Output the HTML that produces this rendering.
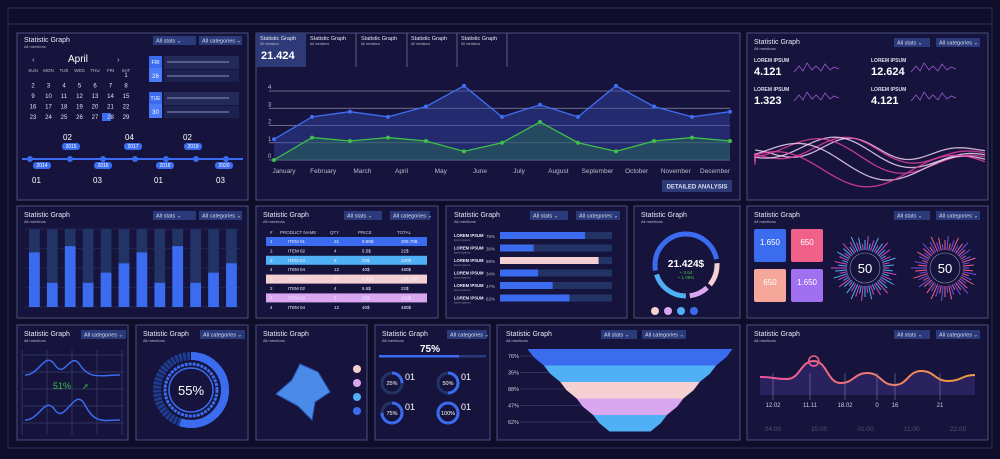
<!DOCTYPE html>
<html><head><meta charset="utf-8"><style>
body{margin:0;background:#0e0d2a;width:1000px;height:454px;overflow:hidden;font-family:"Liberation Sans",sans-serif}
svg text{font-family:"Liberation Sans",sans-serif}
</style></head><body>
<svg id="s" width="1000" height="454" viewBox="0 0 1000 454">
<rect x="0" y="0" width="1000" height="454" fill="#0e0d2a"/>
<rect x="8" y="8" width="984" height="440" fill="none" stroke="#2c3058" stroke-width="1"/>
<line x1="8" y1="24" x2="992" y2="24" stroke="#2c3058"/>
<g id="panels"></g>
<g id="content"></g>
</svg>
<script>
// main line chart data
const months=["January","February","March","April","May","June","July","August","September","October","November","December"];
const blueVals=[1.2,2.5,2.8,2.5,3.1,4.3,2.5,3.2,2.5,4.3,3.1,2.5,2.8];
const greenVals=[0,1.3,1.1,1.3,1.1,0.5,1,2.2,1,0.5,1.1,1.3,1.1];
const yTicks=[0,1,2,3,4];
// bar chart data
const barVals=[0.70,0.31,0.78,0.31,0.44,0.56,0.70,0.31,0.78,0.31,0.44,0.56];
// progress list data
const progLabels=["76%","30%","88%","34%","47%","62%"];
const progVals=[0.76,0.30,0.88,0.34,0.47,0.62];
const progColors=["#3b6cf0","#3b6cf0","#f5d0d3","#3b6cf0","#3b6cf0","#3b6cf0"];
// funnel data
const funnelLabels=["76%","35%","88%","47%","62%"];
const funnelVals=[0.76,0.35,0.88,0.47,0.62];
const funnelColors=["#3b6cf0","#4fb0f5","#f5d0d3","#d9a6f0","#4fb0f5"];
// wave chart data
const waveLabels=["12.02","11.11","18.02","0","16","21"];
const waveVals=[0.45,0.4,0.85,0.3,0.55,0.25,0.6,0.35,0.5];
const timeLabels=["04:00","15:00","01:00","11:00","22:00"];

const NS="http://www.w3.org/2000/svg";
function el(tag,attrs,parent,txt){const e=document.createElementNS(NS,tag);for(const k in attrs)e.setAttribute(k,attrs[k]);if(txt!==undefined)e.textContent=txt;(parent||C).appendChild(e);return e;}
const P=document.getElementById('panels');const C=document.getElementById('content');
const panels=[[17,33,231,167,'calendar-panel'],[256,33,484,167,'line-chart-panel'],[747,33,241,167,'waves-panel'],
[17,206,231,112,'bar-chart-panel'],[256,206,182,112,'table-panel'],[446,206,181,112,'progress-panel'],[634,206,106,112,'donut-panel'],[747,206,241,112,'cards-panel'],
[17,325,111,115,'mini-wave-panel'],[136,325,112,115,'ring-panel'],[256,325,111,115,'radar-panel'],[375,325,115,115,'circles-panel'],[497,325,243,115,'funnel-panel'],[747,325,241,115,'wave-line-panel']];
panels.forEach(p=>{const r=el('rect',{x:p[0],y:p[1],width:p[2],height:p[3],fill:'#16143c',stroke:'#4a4f7e','stroke-width':1},P);

});
function title(x,y,dd){const t=el('text',{x:x,y:y,fill:'#e8e8f5','font-size':7},C,'Statistic Graph');


el('text',{x:x,y:y+6,fill:'#b8b8d0','font-size':4},C,'All mentions');
if(dd){dd.forEach(d=>{const g=el('rect',{x:d[0],y:y-6,width:d[1],height:9,fill:'#2a3a7a'},C);


el('text',{x:d[0]+3,y:y+0.5,fill:'#dde','font-size':5.5},C,d[2]);});}}
title(24,42,[[153,43,'All stats ⌄'],[199,43,'All categories ⌄']]);
title(24,217,[[153,43,'All stats ⌄'],[199,43,'All categories ⌄']]);
title(263,217,[[344,38,'All stats ⌄'],[390,40,'All categories ⌄']]);
title(454,217,[[530,38,'All stats ⌄'],[576,44,'All categories ⌄']]);
title(641,217);
title(754,217,[[894,36,'All stats ⌄'],[936,44,'All categories ⌄']]);
title(754,44,[[894,36,'All stats ⌄'],[936,44,'All categories ⌄']]);
title(24,336,[[81,45,'All categories ⌄']]);
title(143,336,[[200,45,'All categories ⌄']]);
title(263,336);
title(382,336,[[447,40,'All categories ⌄']]);
title(506,336,[[601,36,'All stats ⌄'],[642,44,'All categories ⌄']]);
title(754,336,[[894,36,'All stats ⌄'],[936,44,'All categories ⌄']]);

// ===== Calendar panel =====
el('text',{x:68,y:62,fill:'#fff','font-size':10},C,'April');
el('text',{x:32,y:62,fill:'#aab','font-size':8},C,'‹');el('text',{x:117,y:62,fill:'#aab','font-size':8},C,'›');
const days=['SUN','MON','TUE','WED','THU','FRI','SAT'];
days.forEach((d,i)=>el('text',{x:33+i*15.5,y:72,fill:'#bbc','font-size':4.5,'text-anchor':'middle'},C,d));
for(let r=0;r<5;r++)for(let c=0;c<7;c++){const dnum=r*7+c-5;if(dnum<1||dnum>30)continue;
if(dnum===26)el('rect',{x:102,y:77+r*10.5-6,width:9,height:8,fill:'#3b6cf0'},C);
el('text',{x:33+c*15.5,y:77+r*10.5,fill:'#e0e0f0','font-size':6,'text-anchor':'middle'},C,dnum);}
[[149,56,'FRI','26'],[149,92,'TUE','30']].forEach(b=>{el('rect',{x:b[0],y:b[1],width:13,height:26,fill:'#3b6cf0',rx:1},C);
el('text',{x:b[0]+6.5,y:b[1]+8,fill:'#fff','font-size':5,'text-anchor':'middle'},C,b[2]);
el('rect',{x:b[0],y:b[1]+12,width:13,height:14,fill:'#4a7af5'},C);
el('text',{x:b[0]+6.5,y:b[1]+22,fill:'#fff','font-size':6,'text-anchor':'middle'},C,b[3]);
el('rect',{x:b[0]+15,y:b[1],width:75,height:13,fill:'#232a5a'},C);
el('rect',{x:b[0]+15,y:b[1]+14,width:75,height:12,fill:'#1d2150'},C);
el('line',{x1:b[0]+18,y1:b[1]+6,x2:b[0]+80,y2:b[1]+6,stroke:'#8890c0','stroke-width':1},C);
el('line',{x1:b[0]+18,y1:b[1]+20,x2:b[0]+80,y2:b[1]+20,stroke:'#8890c0','stroke-width':1},C);});
el('line',{x1:22,y1:159,x2:243,y2:159,stroke:'#3b6cf0','stroke-width':2},C);
[30,70,103,135,166,196,226].forEach(x=>{el('circle',{cx:x,cy:159,r:3,fill:'#3b6cf0'},C);});
[['2014',42,167],['2016',103,167],['2018',165,167],['2020',224,167],['2015',71,148],['2017',133,148],['2019',193,148]].forEach(l=>{
el('rect',{x:l[1]-9,y:l[2]-5,width:18,height:7,fill:'#3b6cf0',rx:3},C);el('text',{x:l[1],y:l[2],fill:'#fff','font-size':5,'text-anchor':'middle'},C,l[0]);});
[[63,140,'02'],[125,140,'04'],[183,140,'02'],[32,183,'01'],[93,183,'03'],[154,183,'01'],[216,183,'03']].forEach(l=>el('text',{x:l[0],y:l[1],fill:'#fff','font-size':8},C,l[2]));

// ===== Main line chart =====
const tabs=[256,306,357,407,457];
tabs.forEach((x,i)=>{if(i===0)el('rect',{x:x,y:33,width:50,height:34,fill:'#2e3a78'},C);
else el('line',{x1:x+50,y1:33,x2:x+50,y2:67,stroke:'#5a5f85'},C);
el('text',{x:x+4,y:40,fill:'#e8e8f5','font-size':5.5},C,'Statistic Graph');el('text',{x:x+4,y:45,fill:'#bbc','font-size':3.5},C,'All mentions');});
el('text',{x:261,y:59,fill:'#fff','font-size':11,'font-weight':'bold'},C,'21.424');
const lx0=274,lx1=730,ly0=160,lyU=17.25;
const X=i=>lx0+i*(lx1-lx0)/(blueVals.length-1);const Y=v=>ly0-v*lyU;
yTicks.forEach(t=>{el('line',{x1:269,y1:Y(t),x2:730,y2:Y(t),stroke:'#8c8aa8','stroke-width':0.8},C);
el('text',{x:268,y:Y(t)-2,fill:'#bbc','font-size':6},C,t);});
function series(vals,col,fill,name){let d='';vals.forEach((v,i)=>d+=(i?'L':'M')+X(i)+','+Y(v));
el('path',{d:d+'L'+X(vals.length-1)+','+ly0+'L'+X(0)+','+ly0+'Z',fill:fill},C);
const p=el('path',{d:d,fill:'none',stroke:col,'stroke-width':1.3},C);


vals.forEach((v,i)=>{const c=el('circle',{cx:X(i),cy:Y(v),r:2,fill:col},C);

});}
series(blueVals,'#3f6ef2','rgba(50,70,170,0.45)','blue-series');
series(greenVals,'#3ec04a','rgba(40,110,80,0.45)','green-series');
months.forEach((m,i)=>el('text',{x:284+i*(715-284)/11,y:173,fill:'#bbc','font-size':6.5,'text-anchor':'middle'},C,m));
const btn=el('rect',{x:662,y:180,width:70,height:12,fill:'#2e3a78'},C);


el('text',{x:697,y:188.5,fill:'#dde','font-size':6,'font-weight':'bold','text-anchor':'middle'},C,'DETAILED ANALYSIS');

// ===== Waves panel =====
[[754,72,'4.121'],[871,72,'12.624'],[754,101,'1.323'],[871,101,'4.121']].forEach(l=>{el('text',{x:l[0],y:l[1]-10,fill:'#dde','font-size':5,'font-weight':'bold'},C,'LOREM IPSUM');
el('text',{x:l[0],y:l[1]+3,fill:'#fff','font-size':11,'font-weight':'bold'},C,l[2]);
el('path',{d:'M'+(l[0]+40)+','+(l[1])+' l5,-6 l4,5 l4,-8 l5,7 l4,-4 l5,5 l4,-7 l5,6 l4,-3 l5,2',fill:'none',stroke:'#9a5ad0','stroke-width':0.8},C);});
for(let k=0;k<6;k++){let d='M755,'+(150+k*3);for(let x=755;x<=985;x+=5){d+=' L'+x+','+(150+k*2+Math.sin((x-755)/(20+k*4)+k)*(12+k*3)*Math.sin((x-740)/240*Math.PI));}
el('path',{d:d,fill:'none',stroke:k%2?'#e040a0':'#f0d0f0','stroke-width':1.3,opacity:0.85},C);}

// ===== Bar chart =====
const bx0=25,bx1=240,bTop=229,bBot=307;
for(let g=0;g<=4;g++)el('line',{x1:bx0,y1:bTop+g*(bBot-bTop)/4,x2:bx1,y2:bTop+g*(bBot-bTop)/4,stroke:'#2e3260','stroke-width':0.6},C);
const bw=(bx1-bx0)/barVals.length;
barVals.forEach((v,i)=>{const x=bx0+4+i*bw;el('rect',{x:x,y:bTop,width:bw*0.6,height:bBot-bTop,fill:'#223466'},C);
const r=el('rect',{x:x,y:bBot-v*(bBot-bTop),width:bw*0.6,height:v*(bBot-bTop),fill:'#3b6cf0'},C);

});

// ===== Table =====
const th=['#','PRODUCT NAME','QTY','PRICE','TOTAL'];const tx=[270,280,330,358,397];
th.forEach((h,i)=>el('text',{x:tx[i],y:234,fill:'#ccd','font-size':4.5},C,h));
const rows=[['1','ITEM 01','21','9.99$','209.79$','#3b6cf0'],['2','ITEM 02','4','5.5$','22$',null],['3','ITEM 03','5','20$','100$','#4fb0f5'],['4','ITEM 04','12','40$','480$',null],['1','ITEM 01','21','9.99$','209.79$','#f5d0d3'],['2','ITEM 02','4','5.5$','22$',null],['3','ITEM 03','5','20$','100$','#d9a6f0'],['4','ITEM 04','12','40$','480$',null]];
rows.forEach((r,i)=>{const y=237+i*9.4;if(r[5])el('rect',{x:266,y:y,width:161,height:9,fill:r[5]},C);
[0,1,2,3,4].forEach(j=>el('text',{x:j==1?288:tx[j]+(j>1?4:0),y:y+6,fill:'#eef','font-size':4.5},C,r[j]));});

// ===== Progress list =====
progVals.forEach((v,i)=>{const y=235+i*12.5;el('text',{x:454,y:y+2,fill:'#eef','font-size':4.2,'font-weight':'bold'},C,'LOREM IPSUM');
el('text',{x:454,y:y+6,fill:'#99a','font-size':3},C,'lorem ipsum');
el('text',{x:486,y:y+3,fill:'#bbc','font-size':4.5},C,progLabels[i]);
el('rect',{x:500,y:y-3,width:112,height:7,fill:'#223466'},C);
const r=el('rect',{x:500,y:y-3,width:112*v,height:7,fill:progColors[i]},C);

});

// ===== Donut =====
const dcx=686,dcy=265,dr=31;
const segs=[['#3b6cf0',0.22],['#16143c',0.02],['#f5d0d3',0.12],['#16143c',0.02],['#d9a6f0',0.1],['#16143c',0.02],['#4fb0f5',0.2],['#16143c',0.02],['#3b6cf0',0.28]];
let acc=-Math.PI/2;const circ=2*Math.PI*dr;
segs.forEach(s=>{el('circle',{cx:dcx,cy:dcy,r:dr,fill:'none',stroke:s[0],'stroke-width':5,'stroke-dasharray':(s[1]*circ)+' '+circ,'stroke-dashoffset':-(acc+Math.PI/2)/(2*Math.PI)*circ,transform:'rotate(-90 '+dcx+' '+dcy+')'},C);acc+=s[1]*2*Math.PI;});
el('text',{x:dcx,y:dcy+2,fill:'#fff','font-size':10,'font-weight':'bold','text-anchor':'middle'},C,'21.424$');
el('text',{x:dcx,y:dcy+9,fill:'#3ec04a','font-size':4.5,'text-anchor':'middle'},C,'+ 3.64');
el('text',{x:dcx,y:dcy+14,fill:'#3ec04a','font-size':4.5,'text-anchor':'middle'},C,'+ 1.08%');
['#f5d0d3','#d9a6f0','#4fb0f5','#3b6cf0'].forEach((c,i)=>el('circle',{cx:655+i*13,cy:311,r:4,fill:c},C));

// ===== Cards + radial =====
[[754,229,'#3b6cf0','1.650'],[791,229,'#f0608a','650'],[754,269,'#f5a89a','650'],[791,269,'#a070f0','1.650']].forEach(c=>{
el('rect',{x:c[0],y:c[1],width:32,height:33,fill:c[2],rx:2},C);el('text',{x:c[0]+16,y:c[1]+16,fill:'#fff','font-size':8,'text-anchor':'middle'},C,c[3]);});
[[865,268,'#4fb0f5','#d04ac0'],[945,268,'#f06090','#7050e0']].forEach(r=>{
for(let a=0;a<60;a++){const ang=a/60*2*Math.PI;const len=6+((a*37)%11);const r1=18,r2=r1+len;
el('line',{x1:r[0]+Math.cos(ang)*r1,y1:r[1]+Math.sin(ang)*r1,x2:r[0]+Math.cos(ang)*r2,y2:r[1]+Math.sin(ang)*r2,stroke:a%2?r[2]:r[3],'stroke-width':1},C);}
el('circle',{cx:r[0],cy:r[1],r:15,fill:'none',stroke:'#8a8fb0','stroke-width':0.6},C);
el('text',{x:r[0],y:r[1]+5,fill:'#fff','font-size':13,'text-anchor':'middle'},C,'50');});

// ===== Mini wave =====
for(let g=0;g<5;g++){el('line',{x1:22,y1:355+g*17,x2:124,y2:355+g*17,stroke:'#2e3260'},C);el('line',{x1:22+g*25,y1:350,x2:22+g*25,y2:435,stroke:'#2e3260'},C);}
el('path',{d:'M25,375 C40,375 45,350 55,365 C65,380 70,350 80,365 C90,380 100,375 120,375',fill:'none',stroke:'#3b6cf0','stroke-width':1.5},C);
el('path',{d:'M25,420 C40,420 45,395 55,410 C65,425 75,385 85,405 C95,425 105,420 120,420',fill:'none',stroke:'#3b6cf0','stroke-width':1.5},C);
el('text',{x:62,y:389,fill:'#3ec04a','font-size':9,'text-anchor':'middle'},C,'51%');
el('text',{x:82,y:389,fill:'#3ec04a','font-size':8},C,'➚');

// ===== Ring 55% =====
[[34,'#1e3c90',8],[26,'#3b6cf0',3],[22,'#3b6cf0',1.5]].forEach(r=>el('circle',{cx:191,cy:390,r:r[0],fill:'none',stroke:r[1],'stroke-width':r[2],'stroke-dasharray':r[2]>2?'3 1':'none'},C));
el('circle',{cx:191,cy:390,r:34,fill:'none',stroke:'#3b6cf0','stroke-width':8,'stroke-dasharray':(0.55*2*Math.PI*34)+' 999',transform:'rotate(-90 191 390)'},C);
el('text',{x:191,y:395,fill:'#fff','font-size':13,'text-anchor':'middle'},C,'55%');

// ===== Radar =====
el('path',{d:'M300,364 L318,372 L330,392 L315,402 L312,420 L298,406 L276,394 L292,380 Z',fill:'#4a8ae8',stroke:'#2a5ab8'},C);
['#f5d0d3','#d9a6f0','#4fb0f5','#3b6cf0'].forEach((c,i)=>el('circle',{cx:357,cy:369+i*14,r:4,fill:c},C));

// ===== Circles 75% =====
el('text',{x:430,y:352,fill:'#fff','font-size':10,'font-weight':'bold','text-anchor':'middle'},C,'75%');
el('rect',{x:379,y:355,width:107,height:2.5,fill:'#2a3a7a'},C);el('rect',{x:379,y:355,width:80,height:2.5,fill:'#3b6cf0'},C);
[[392,383,'25%',0.25],[448,383,'50%',0.5],[392,413,'75%',0.75],[448,413,'100%',1]].forEach(c=>{
el('circle',{cx:c[0],cy:c[1],r:10,fill:'none',stroke:'#223466','stroke-width':3},C);
el('circle',{cx:c[0],cy:c[1],r:10,fill:'none',stroke:'#3b6cf0','stroke-width':3,'stroke-dasharray':(c[3]*62.8)+' 99',transform:'rotate(-90 '+c[0]+' '+c[1]+')'},C);
el('text',{x:c[0],y:c[1]+2,fill:'#fff','font-size':5.5,'text-anchor':'middle'},C,c[2]);
el('text',{x:c[0]+13,y:c[1]-3,fill:'#fff','font-size':9},C,'01');});

// ===== Funnel =====
const fcx=630,fTop=349,fStep=16.5;
funnelVals.forEach((v,i)=>{const y=fTop+i*fStep;const wTop=(1-i*0.16)*205/2, wBot=(1-(i+1)*0.16)*205/2;
const p=el('path',{d:`M${fcx-wTop},${y} L${fcx+wTop},${y} L${fcx+wTop-6},${y+8} L${fcx+wBot},${y+fStep} L${fcx-wBot},${y+fStep} L${fcx-wTop+6},${y+8}Z`,fill:funnelColors[i]},C);


el('text',{x:508,y:y+9,fill:'#ccd','font-size':5.5},C,funnelLabels[i]);
el('line',{x1:520,y1:y+7,x2:fcx-wTop+4,y2:y+7,stroke:'#4a4f7e','stroke-width':0.5},C);});

// ===== Wave line =====
const wx0=760,wx1=975,wBase=395,wAmp=40;
let wd='';waveVals.forEach((v,i)=>{const x=wx0+i*(wx1-wx0)/(waveVals.length-1),y=wBase-v*wAmp;
if(i===0)wd='M'+x+','+y;else{const px=wx0+(i-1)*(wx1-wx0)/(waveVals.length-1),py=wBase-waveVals[i-1]*wAmp;const mx=(px+x)/2;wd+=` C${mx},${py} ${mx},${y} ${x},${y}`;}});
el('path',{d:wd+`L${wx1},${wBase}L${wx0},${wBase}Z`,fill:'rgba(80,60,160,0.35)'},C);
const defs=el('defs',{},C);const lg=el('linearGradient',{id:'wg',x1:0,x2:1,y1:0,y2:0},defs);
el('stop',{offset:0,'stop-color':'#f050a0'},lg);el('stop',{offset:1,'stop-color':'#f0a040'},lg);
const wl=el('path',{d:wd,fill:'none',stroke:'url(#wg)','stroke-width':2},C);


const peakX=wx0+2*(wx1-wx0)/(waveVals.length-1);
el('circle',{cx:peakX,cy:wBase-waveVals[2]*wAmp,r:5,fill:'none',stroke:'#f06090','stroke-width':1.5},C);
const waveLabelX=[773,810,845,877,895,940];
waveLabels.forEach((l,i)=>{const x=waveLabelX[i];
el('line',{x1:x,y1:wBase-wAmp*0.55,x2:x,y2:wBase+5,stroke:'#8c8aa8','stroke-width':0.5},C);
el('text',{x:x,y:wBase+12,fill:'#ccd','font-size':6,'text-anchor':'middle'},C,l);});
timeLabels.forEach((t,i)=>el('text',{x:773+i*(185/4),y:431,fill:'#556','font-size':6.5,'text-anchor':'middle'},C,t));
</script>
</body></html>
